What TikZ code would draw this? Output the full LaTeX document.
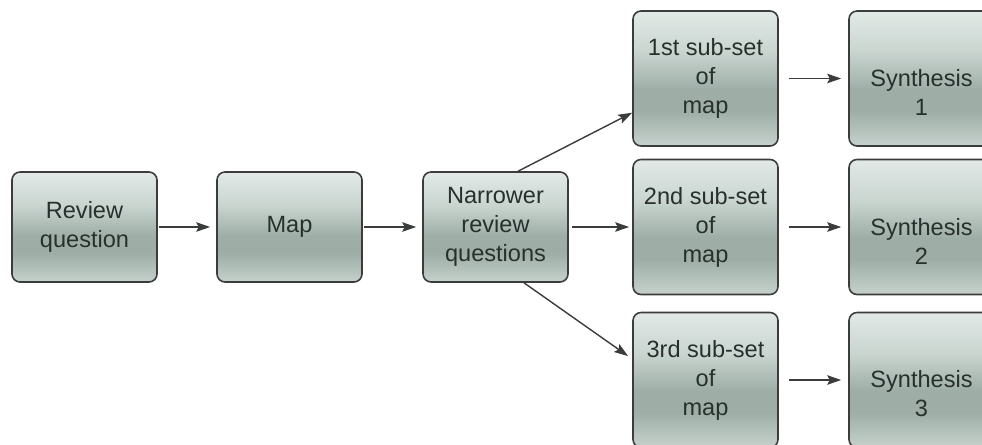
\documentclass[tikz,border=0pt]{standalone}
\usepackage{fontspec}
\setmainfont{Liberation Sans}
\usetikzlibrary{arrows.meta}

\definecolor{boxtop}{HTML}{E2E9E6}
\definecolor{boxupper}{HTML}{CAD5D0}
\definecolor{boxmid}{HTML}{9EAEA7}
\definecolor{boxbot}{HTML}{C6D1CC}
\definecolor{boxline}{HTML}{3A3D3B}
\definecolor{boxtext}{HTML}{27302C}

\pgfdeclareverticalshading{stageshade}{100bp}{color(0bp)=(boxbot); color(25bp)=(boxbot);
	color(38bp)=(boxmid); color(46bp)=(boxmid); color(60bp)=(boxupper); color(75bp)=(boxtop); color(100bp)=(boxtop)}

\tikzset{
	stagebox/.style={draw=boxline, line width=0.9pt, rounded corners=0.16cm,
		shading=stageshade, minimum width=2.9cm, minimum height=2.2cm, align=center,
		text=boxtext, font=\fontsize{13.4}{16.5}\selectfont},
	tallbox/.style={stagebox, minimum height=2.7cm},
	synthtext/.style={align=center, text=boxtext, font=\fontsize{13.4}{16.5}\selectfont, yshift=-0.28cm},
	flow/.style={->, line width=0.8pt, draw=boxline}
}

\begin{document}
\begin{tikzpicture}[>={Stealth[length=0.28cm,width=0.19cm,inset=0.05cm]}]
	\useasboundingbox (0,0) rectangle (19.64,8.88);
	\begin{scope}
	\clip (0,0) rectangle (19.64,8.88);

	\node[stagebox] (review) at (1.69,4.34) {Review\\question};
	\node[stagebox] (map) at (5.79,4.34) {Map};
	\node[stagebox] (narrow) at (9.91,4.34) {Narrower\\review\\questions};

	\node[tallbox] (sub1) at (14.11,7.31) {1st sub-set\\of\\map};
	\node[tallbox] (sub2) at (14.11,4.34) {2nd sub-set\\of\\map};
	\node[tallbox] (sub3) at (14.11,1.28) {3rd sub-set\\of\\map};

	\node[tallbox, label={[synthtext]center:{Synthesis\\1}}] (synth1) at (18.43,7.31) {};
	\node[tallbox, label={[synthtext]center:{Synthesis\\2}}] (synth2) at (18.43,4.34) {};
	\node[tallbox, label={[synthtext]center:{Synthesis\\3}}] (synth3) at (18.43,1.28) {};

	\draw[flow, shorten <=0.02cm, shorten >=0.12cm] (review) -- (map);
	\draw[flow, shorten <=0.02cm, shorten >=0.12cm] (map) -- (narrow);

	\draw[flow] (narrow.68) -- (sub1.205);
	\draw[flow, shorten <=0.06cm, shorten >=0.06cm] (narrow) -- (sub2);
	\draw[flow, shorten >=0.1cm] (narrow.-63) -- (sub3.164);

	\draw[flow, shorten <=0.2cm, shorten >=0.14cm] (sub1) -- (synth1);
	\draw[flow, shorten <=0.2cm, shorten >=0.14cm] (sub2) -- (synth2);
	\draw[flow, shorten <=0.2cm, shorten >=0.14cm] (sub3) -- (synth3);
	\end{scope}
\end{tikzpicture}
\end{document}
